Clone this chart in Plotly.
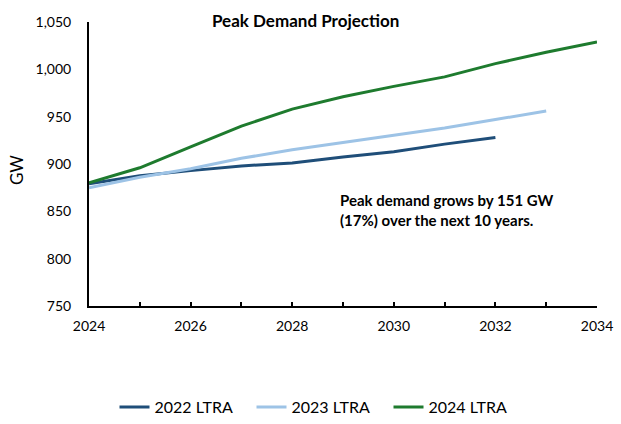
import plotly.graph_objects as go

years_2022 = [2024, 2025, 2026, 2027, 2028, 2029, 2030, 2031, 2032]
ltra_2022 = [879, 887.5, 893, 898, 901, 907.5, 913, 921, 928]

years_2023 = [2024, 2025, 2026, 2027, 2028, 2029, 2030, 2031, 2032, 2033]
ltra_2023 = [875, 886, 895, 906, 915, 922.5, 930, 938, 947, 956]

years_2024 = [2024, 2025, 2026, 2027, 2028, 2029, 2030, 2031, 2032, 2033, 2034]
ltra_2024 = [880, 896, 918, 940, 958, 971, 982, 992, 1006, 1018, 1029]

y_ticks = [750, 800, 850, 900, 950, 1000, 1050]
x_tick_years = list(range(2024, 2035))
x_tick_labels = [str(y) if y % 2 == 0 else "" for y in x_tick_years]

FONT = "Lato, 'Open Sans', sans-serif"
L, R, T, B = 89, 24, 22, 118
PW, PH = 621 - L - R, 424 - T - B

fig = go.Figure()
fig.add_trace(go.Scatter(x=years_2022, y=ltra_2022, mode="lines", name="2022 LTRA",
                         line=dict(color="#1F4E79", width=3)))
fig.add_trace(go.Scatter(x=years_2023, y=ltra_2023, mode="lines", name="2023 LTRA",
                         line=dict(color="#9DC3E6", width=3)))
fig.add_trace(go.Scatter(x=years_2024, y=ltra_2024, mode="lines", name="2024 LTRA",
                         line=dict(color="#1E7B2E", width=3)))

fig.update_layout(
    width=621, height=424,
    margin=dict(l=L, r=R, t=T, b=B, autoexpand=False),
    paper_bgcolor="white", plot_bgcolor="white",
    font=dict(family=FONT, color="black", size=14),
    showlegend=True,
    legend=dict(orientation="h", x=(320 - L) / PW, xanchor="center",
                y=-(407 - (T + PH)) / PH, yanchor="middle",
                font=dict(size=16, family=FONT), itemwidth=30,
                entrywidth=92, entrywidthmode="pixels"),
    xaxis=dict(range=[2024, 2034], tickvals=x_tick_years, ticktext=x_tick_labels,
               showgrid=False, zeroline=False, showline=True, linecolor="black", linewidth=2,
               ticks="inside", ticklen=4, tickwidth=2, tickcolor="black",
               tickfont=dict(size=14), ticklabelstandoff=6, automargin=False,
               fixedrange=True),
    yaxis=dict(range=[750, 1050], tickvals=y_ticks, tickformat=",", showgrid=False,
               zeroline=False, showline=True, linecolor="black", linewidth=2, ticks="",
               tickfont=dict(size=14), ticklabelstandoff=13, automargin=False,
               fixedrange=True),
    annotations=[
        dict(text="<b>Peak Demand Projection</b>", xref="paper", yref="paper",
             x=(305 - L) / PW, y=(T + PH - 20) / PH, xanchor="center", yanchor="middle",
             showarrow=False, font=dict(size=17, family=FONT)),
        dict(text="GW", xref="paper", yref="paper", x=(16 - L) / PW,
             y=(T + PH - 170) / PH, xanchor="center", yanchor="middle", textangle=-90,
             showarrow=False, font=dict(size=17, family=FONT)),
        dict(text="<b>Peak demand grows by 151 GW<br>(17%) over the next 10 years.</b>",
             x=2028.9, y=851, xref="x", yref="y", xanchor="left", yanchor="middle",
             align="left", showarrow=False, font=dict(size=15, family=FONT)),
    ],
)

fig.write_html("out.html", config={"displayModeBar": False},
               post_script="document.body.style.margin='0';")
